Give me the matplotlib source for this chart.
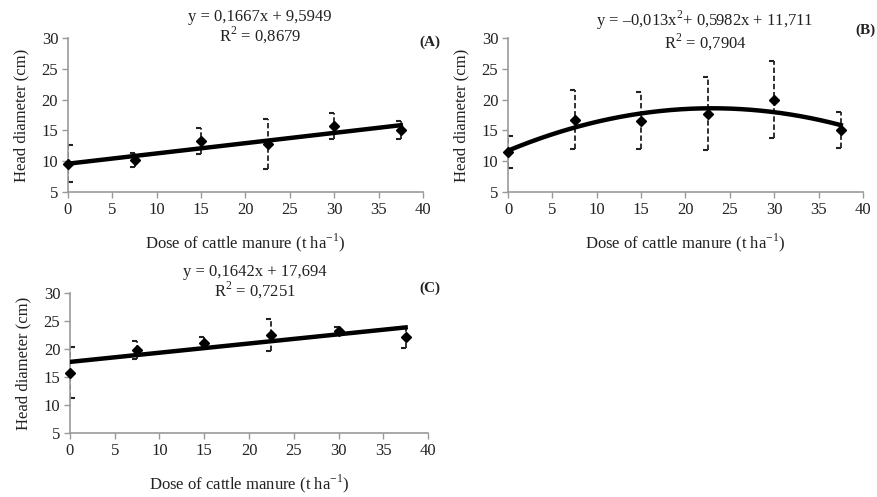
import numpy as np
import matplotlib
matplotlib.use("Agg")
import matplotlib.pyplot as plt
from matplotlib.path import Path

plt.rcParams['font.family'] = ['Liberation Serif', 'DejaVu Serif']
plt.rcParams['mathtext.fontset'] = 'custom'
plt.rcParams['mathtext.rm'] = 'Liberation Serif'

# doses (t/ha)
dose = [0, 7.5, 15, 22.5, 30, 37.5]

# (A) linear
head_a = [9.6, 10.2, 13.25, 12.8, 15.75, 15.05]
err_a = [3.0, 1.2, 2.1, 4.0, 2.15, 1.5]
coef_a = [0.1667, 9.5949]

# (B) quadratic
head_b = [11.5, 16.7, 16.6, 17.7, 20.0, 15.05]
err_b = [2.6, 4.8, 4.6, 5.9, 6.2, 2.9]
coef_b = [-0.013, 0.5982, 11.711]

# (C) linear
head_c = [15.8, 19.75, 21.1, 22.55, 23.3, 22.1]
err_c = [4.5, 1.6, 1.1, 2.85, 0.6, 1.85]
coef_c = [0.1642, 17.694]

eq_a = "y = 0,1667x + 9,5949\nR$^2$ = 0,8679"
eq_b = "y = \u20130,013x$^2$+ 0,5982x + 11,711\nR$^2$ = 0,7904"
eq_c = "y = 0,1642x + 17,694\nR$^2$ = 0,7251"

xlab = "Dose of cattle manure (t ha$^{-1}$)"
ylab = "Head diameter (cm)"

# half-cap markers: "]" on the left, "[" on the right
cap_left = Path([(-1, 0), (0, 0)], [Path.MOVETO, Path.LINETO])
cap_right = Path([(0, 0), (1, 0)], [Path.MOVETO, Path.LINETO])

fig = plt.figure(figsize=(8.78, 4.97), dpi=100)
fs = 12


def panel(rect, y, err, coef, eq, tag, eq_xy, tag_xy):
    ax = fig.add_axes(rect)
    x = np.array(dose)
    y = np.array(y)
    e = np.array(err)
    ax.vlines(x, y - e, y + e, colors='#222222', linestyles=(0, (3, 1.5)), lw=1.3, zorder=2)
    for xi, lo, hi in zip(x, y - e, y + e):
        m = cap_right if xi == 0 else cap_left
        ax.plot([xi, xi], [lo, hi], ls='none', marker=m, ms=6.5, mew=1.5,
                color='#222222', clip_on=False, zorder=2)
    xf = np.linspace(0, 37.5, 200)
    ax.plot(xf, np.polyval(coef, xf), color='black', lw=3.2, zorder=3)
    ax.plot(x, y, ls='none', marker='D', ms=5.5, color='black', zorder=4, clip_on=False)
    ax.set_xlim(0, 40)
    ax.set_ylim(5, 30)
    ax.set_xticks(range(0, 41, 5))
    ax.set_yticks(range(5, 31, 5))
    for s in ['top', 'right']:
        ax.spines[s].set_visible(False)
    for s in ['left', 'bottom']:
        ax.spines[s].set_color('#999999')
        ax.spines[s].set_linewidth(1.2)
    ax.tick_params(direction='out', length=4, width=1, color='#999999',
                   labelsize=fs, labelcolor='#222222', pad=3)
    ax.set_xlabel(xlab, fontsize=fs, color='#222222', labelpad=10)
    ax.set_ylabel(ylab, fontsize=fs, color='#222222', labelpad=9)
    fig.text(eq_xy[0], eq_xy[1], eq, ha='center', va='top', fontsize=fs, color='#222222',
             linespacing=1.0)
    fig.text(tag_xy[0], tag_xy[1], tag, ha='right', va='center', fontsize=fs - 1,
             fontweight='bold', color='#222222')
    return ax


panel([0.0774, 0.6137, 0.4044, 0.3098], head_a, err_a, coef_a, eq_a, "(A)",
      (260 / 878, 1 - 9 / 497), (0.502, 1 - 42 / 497))
panel([0.5786, 0.6137, 0.4043, 0.3098], head_b, err_b, coef_b, eq_b, "(B)",
      (705 / 878, 1 - 9 / 497), (0.997, 1 - 30 / 497))
panel([0.0797, 0.1288, 0.4078, 0.2817], head_c, err_c, coef_c, eq_c, "(C)",
      (255 / 878, 1 - 264 / 497), (0.502, 1 - 288 / 497))

fig.savefig("out.png", dpi=100)
